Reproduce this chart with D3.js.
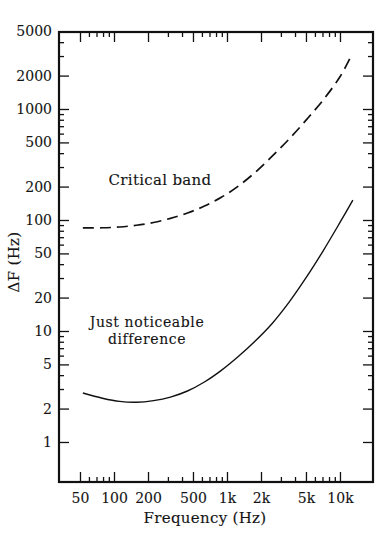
<!DOCTYPE html>
<html>
<head>
<meta charset="utf-8">
<script src="https://cdn.jsdelivr.net/npm/d3@7/dist/d3.min.js"></script>
<style>
  html, body { margin: 0; padding: 0; background: #fff; }
  svg { display: block; }
  text { font-family: "DejaVu Serif", serif; fill: #141414; stroke: #141414; stroke-width: 0.12; }
</style>
</head>
<body>
<svg id="chart" width="384" height="547"></svg>
<script>
// ---- data ----
const xTickValues = [50, 100, 200, 500, 1000, 2000, 5000, 10000];
const xTickLabels = ["50", "100", "200", "500", "1k", "2k", "5k", "10k"];
const yTickValues = [1, 2, 5, 10, 20, 50, 100, 200, 500, 1000, 2000, 5000];
const yTickLabels = ["1", "2", "5", "10", "20", "50", "100", "200", "500", "1000", "2000", "5000"];

const criticalBandFreq = [53, 79, 112, 158, 224, 316, 447, 631, 891, 1259, 1778, 2512, 3548, 5012, 7079, 10000, 12300];
const criticalBandValue = [85, 85.1, 86.5, 89.7, 95, 103.5, 115.6, 133.4, 160, 202, 269, 376, 537, 794, 1202, 1950, 2880];

const jndFreq = [53, 79, 112, 158, 224, 316, 447, 631, 891, 1259, 1778, 2512, 3548, 5012, 7079, 10000, 13000];
const jndValue = [2.76, 2.48, 2.32, 2.28, 2.36, 2.54, 2.88, 3.47, 4.42, 5.89, 8.13, 11.7, 18.2, 30.2, 52.5, 95, 151];

const xLabel = "Frequency (Hz)";
const yLabel = "ΔF (Hz)";
const cbLabel = "Critical band";
const jndLabel = ["Just noticeable", "difference"];

// ---- layout ----
const L = 59, R = 373, T = 32, B = 482;
const svg = d3.select("#chart");

const x = d3.scaleLog().domain([32.6, 19600]).range([L, R]);
const y = d3.scaleLog().domain([0.436, 4940]).range([B, T]);

// minor ticks
function logTicks(lo, hi) {
  const out = [];
  for (let d = 1; d <= 100000; d *= 10)
    for (let m = 1; m <= 9; m++) {
      const v = m * d;
      if (v >= lo && v <= hi) out.push(v);
    }
  return out;
}
const xMinor = logTicks(50, 19000).filter(v => !xTickValues.includes(v));
const yMinor = logTicks(1, 4900).filter(v => !yTickValues.includes(v));

const axisColor = "#111";
const g = svg.append("g");

// bottom axis (ticks inward)
const axB = g.append("g").attr("transform", `translate(0,${B})`)
  .call(d3.axisBottom(x).tickValues(xTickValues).tickFormat((d, i) => xTickLabels[i]).tickSizeInner(-10).tickSizeOuter(0).tickPadding(11));
axB.append("g").call(d3.axisBottom(x).tickValues(xMinor).tickFormat("").tickSizeInner(-5).tickSizeOuter(0));
// top axis
const axT = g.append("g").attr("transform", `translate(0,${T})`)
  .call(d3.axisTop(x).tickValues(xTickValues).tickFormat("").tickSizeInner(-10).tickSizeOuter(0));
axT.append("g").call(d3.axisTop(x).tickValues(xMinor).tickFormat("").tickSizeInner(-5).tickSizeOuter(0));
// left axis
const axL = g.append("g").attr("transform", `translate(${L},0)`)
  .call(d3.axisLeft(y).tickValues(yTickValues).tickFormat((d, i) => yTickLabels[i]).tickSizeInner(-10).tickSizeOuter(0).tickPadding(7));
axL.append("g").call(d3.axisLeft(y).tickValues(yMinor).tickFormat("").tickSizeInner(-5).tickSizeOuter(0));
// right axis
const axR = g.append("g").attr("transform", `translate(${R},0)`)
  .call(d3.axisRight(y).tickValues(yTickValues).tickFormat("").tickSizeInner(-10).tickSizeOuter(0));
axR.append("g").call(d3.axisRight(y).tickValues(yMinor).tickFormat("").tickSizeInner(-5).tickSizeOuter(0));

g.selectAll(".domain").remove();
g.selectAll(".tick line").attr("stroke", axisColor).attr("stroke-width", 1.3);
g.selectAll(".tick text").attr("font-family", "DejaVu Serif").attr("font-size", 14).attr("fill", "#141414");

// frame
svg.append("rect").attr("x", L).attr("y", T).attr("width", R - L).attr("height", B - T)
  .attr("fill", "none").attr("stroke", axisColor).attr("stroke-width", 2.2);

// curves
const line = d3.line().x(d => x(d[0])).y(d => y(d[1])).curve(d3.curveCatmullRom.alpha(0.5));
svg.append("path")
  .datum(criticalBandFreq.map((f, i) => [f, criticalBandValue[i]]))
  .attr("d", line).attr("fill", "none").attr("stroke", "#111").attr("stroke-width", 1.7)
  .attr("stroke-dasharray", "11,6");
svg.append("path")
  .datum(jndFreq.map((f, i) => [f, jndValue[i]]))
  .attr("d", line).attr("fill", "none").attr("stroke", "#111").attr("stroke-width", 1.4);

// labels
svg.append("text").attr("x", 160).attr("y", 185).attr("text-anchor", "middle")
  .attr("font-size", 15).attr("letter-spacing", 0.3).text(cbLabel);
svg.append("text").attr("x", 147).attr("y", 327).attr("text-anchor", "middle")
  .attr("font-size", 14).attr("letter-spacing", 0.6).text(jndLabel[0]);
svg.append("text").attr("x", 147).attr("y", 344).attr("text-anchor", "middle")
  .attr("font-size", 14).attr("letter-spacing", 0.6).text(jndLabel[1]);

svg.append("text").attr("x", 205).attr("y", 523).attr("text-anchor", "middle")
  .attr("font-size", 15).attr("letter-spacing", 0.3).text(xLabel);
svg.append("text").attr("transform", "translate(19,262) rotate(-90)").attr("text-anchor", "middle")
  .attr("font-size", 15).attr("letter-spacing", 0.3).text(yLabel);
</script>
</body>
</html>
